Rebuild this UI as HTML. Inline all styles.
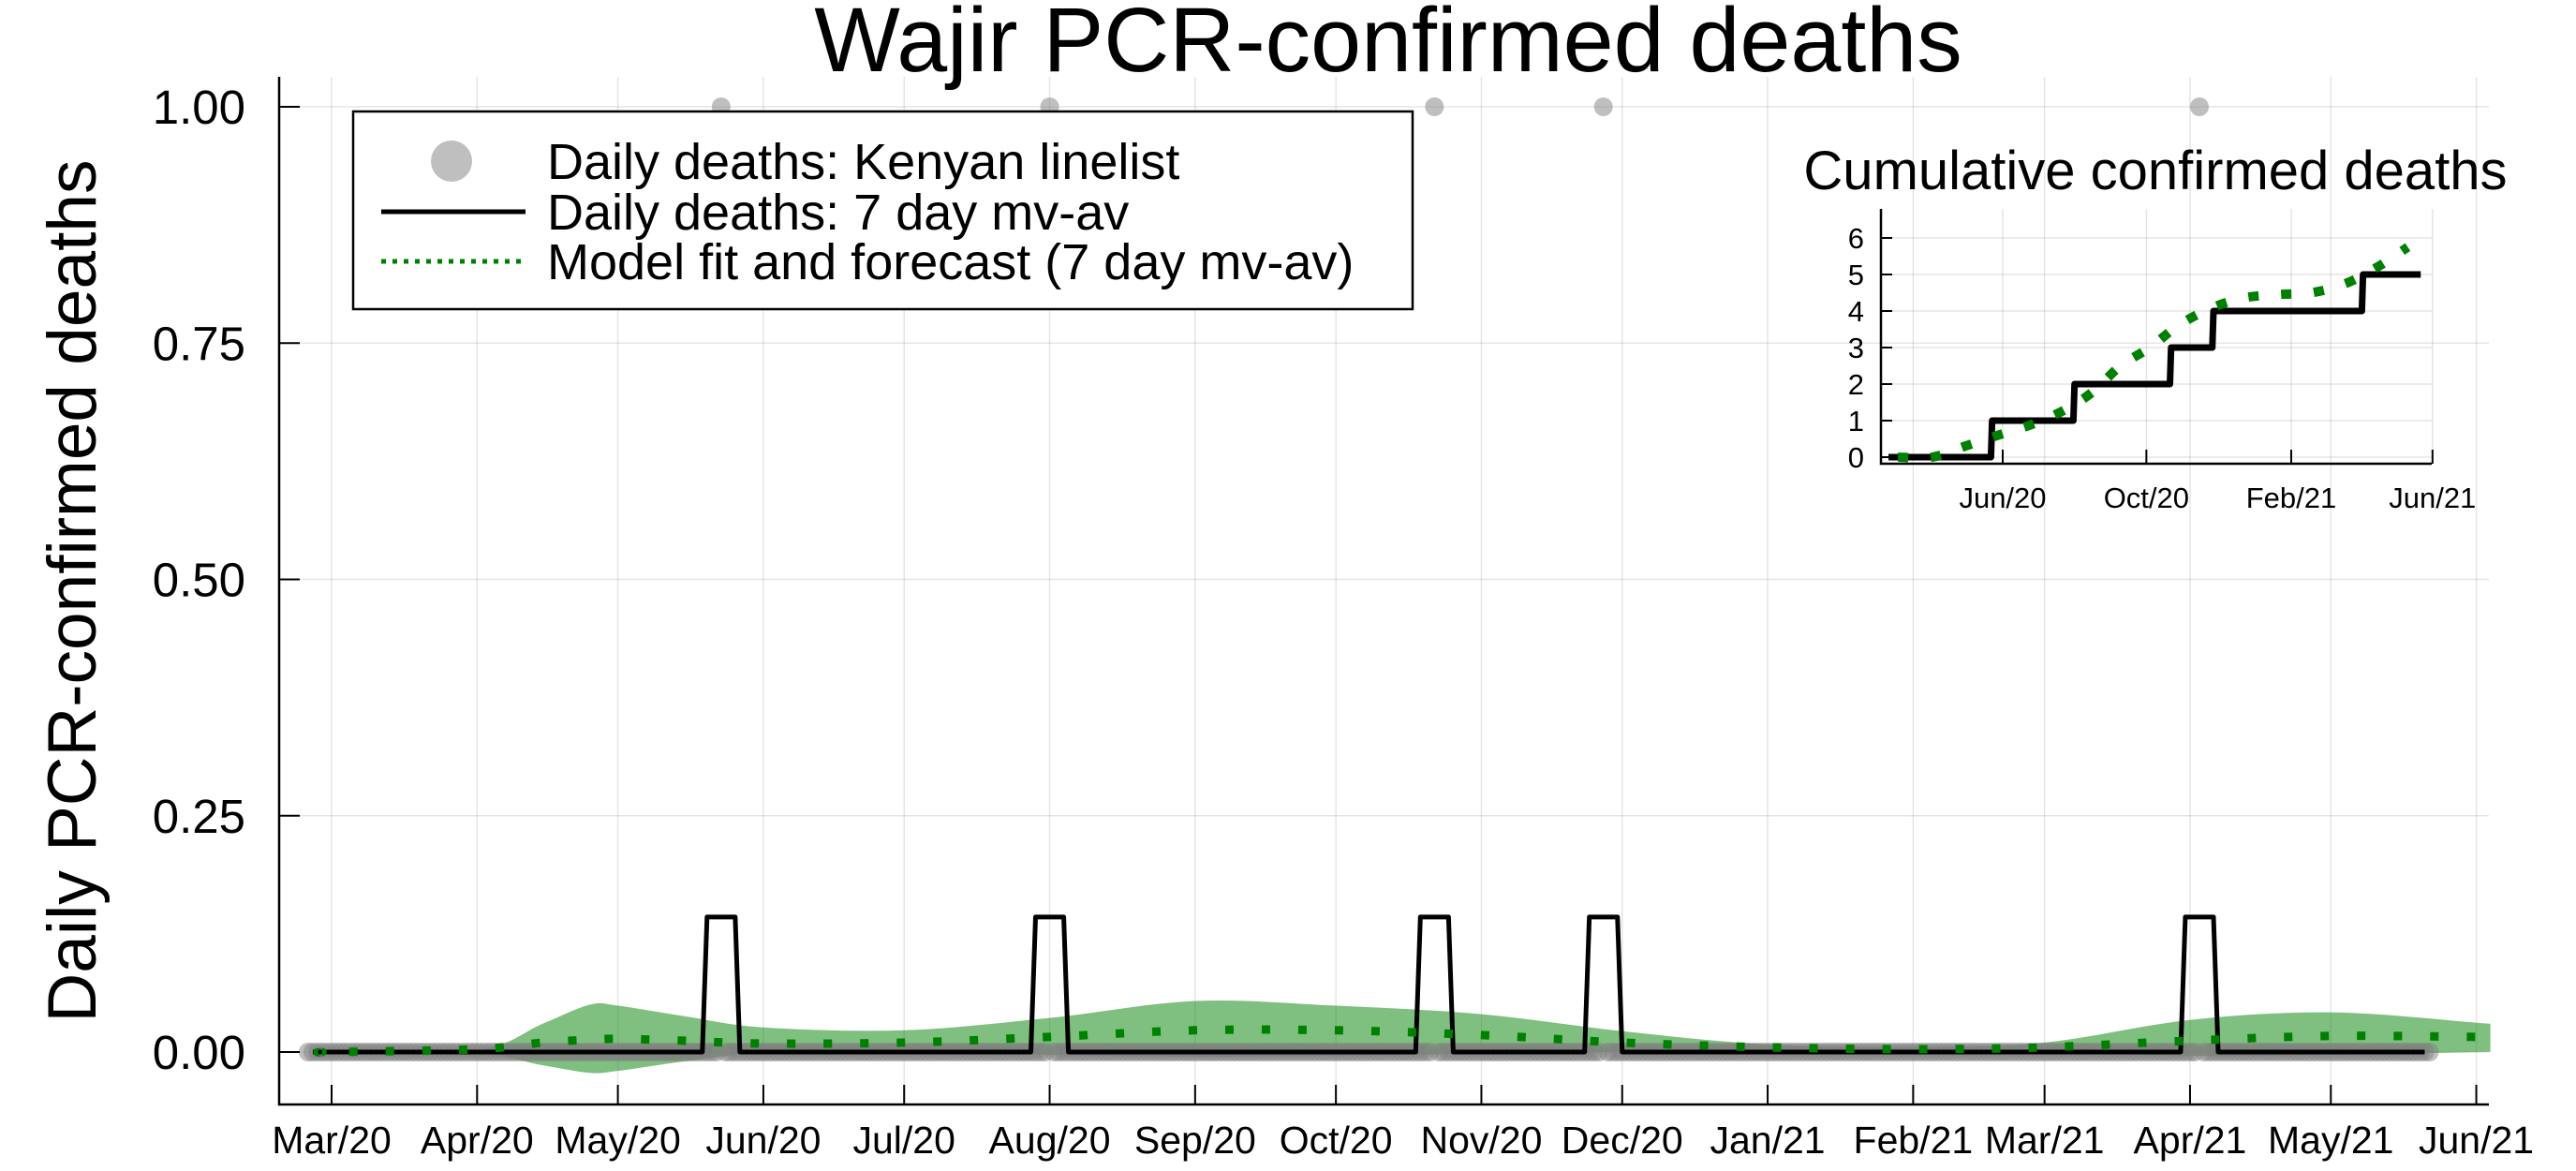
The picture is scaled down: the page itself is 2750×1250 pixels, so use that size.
<!DOCTYPE html>
<html><head><meta charset="utf-8"><style>
html,body{margin:0;padding:0;background:#fff;}
svg{display:block;font-family:"Liberation Sans","DejaVu Sans",sans-serif;}
</style></head><body>
<svg id="chart" width="2750" height="1250" viewBox="0 0 2750 1250" xmlns="http://www.w3.org/2000/svg">
<text x="1482" y="76" font-size="97" text-anchor="middle">Wajir PCR-confirmed deaths</text>
<text transform="translate(102,631) rotate(-90)" font-size="73" text-anchor="middle">Daily PCR-confirmed deaths</text>
<g id="main"></g>
<g id="inset"></g>
<g id="legend">
<rect x="377" y="119" width="1131" height="211" fill="#fff" stroke="#000" stroke-width="2.5"/>
<circle cx="482" cy="172" r="22" fill="#808080" fill-opacity="0.5"/>
<text x="584" y="191" font-size="54">Daily deaths: Kenyan linelist</text>
<line x1="407" y1="226" x2="561" y2="226" stroke="#000" stroke-width="5"/>
<text x="584" y="245" font-size="54">Daily deaths: 7 day mv-av</text>
<line x1="407" y1="279" x2="561" y2="279" stroke="#008000" stroke-width="5" stroke-dasharray="5 7"/>
<text x="584" y="298" font-size="54">Model fit and forecast (7 day mv-av)</text>
</g>
</svg>
<script>
const NS="http://www.w3.org/2000/svg";
// ---- data ----
const deathDays=[83,153,235,271,398];        // days since 2020-03-01 with one death
const firstDay=-5, lastDay=447;
const monthLabels=["Mar/20","Apr/20","May/20","Jun/20","Jul/20","Aug/20","Sep/20","Oct/20","Nov/20","Dec/20","Jan/21","Feb/21","Mar/21","Apr/21","May/21","Jun/21"];
const monthDays=[0,31,61,92,122,153,184,214,245,275,306,337,365,396,426,457];
const yTicks=[0,0.25,0.5,0.75,1.0];
const yTickLabels=["0.00","0.25","0.50","0.75","1.00"];
const modelDays=[-2,0,31,45,55,61,75,92,122,153,184,214,245,275,306,337,365,396,426,457,460];
const modelMean=[0,0,0.003,0.010,0.013,0.014,0.012,0.009,0.010,0.016,0.023,0.023,0.018,0.010,0.005,0.003,0.005,0.012,0.017,0.016,0.016];
const modelUpper=[0,0,0.002,0.03,0.05,0.049,0.038,0.026,0.023,0.036,0.054,0.049,0.040,0.022,0.008,0.005,0.010,0.034,0.042,0.031,0.030];
const modelLower=[0,0,-0.002,-0.014,-0.022,-0.02,-0.01,-0.001,0.001,-0.003,-0.005,-0.004,-0.002,0,0,0,0,-0.004,-0.003,0,0];
const cumModelDays=[3,32,60,88,117,145,169,192,217,241,267,295,325,354,383,410,436];
const cumModelVals=[0,0,0.3,0.6,0.9,1.3,1.8,2.5,3.0,3.6,4.05,4.35,4.45,4.5,4.75,5.2,5.75];
const insetXLabels=["Jun/20","Oct/20","Feb/21","Jun/21"];
const insetXDays=[92,214,337,457];
const insetYTicks=[0,1,2,3,4,5,6];

// ---- scales ----
const X=d=>354+d*5.01;
const Y=v=>1123-v*1009;
const IX=d=>2138+(d-92)*1.257;
const IY=v=>488-v*39;

function el(tag,attrs,parent,text){const e=document.createElementNS(NS,tag);for(const k in attrs)e.setAttribute(k,attrs[k]);if(text!==undefined)e.textContent=text;parent.appendChild(e);return e;}
function smooth(pts){let d="M"+pts[0][0]+","+pts[0][1];for(let i=0;i<pts.length-1;i++){const p0=pts[Math.max(0,i-1)],p1=pts[i],p2=pts[i+1],p3=pts[Math.min(pts.length-1,i+2)];const c1=[p1[0]+(p2[0]-p0[0])/6,p1[1]+(p2[1]-p0[1])/6],c2=[p2[0]-(p3[0]-p1[0])/6,p2[1]-(p3[1]-p1[1])/6];d+=" C"+c1[0]+","+c1[1]+" "+c2[0]+","+c2[1]+" "+p2[0]+","+p2[1];}return d;}

const main=document.getElementById("main");
monthDays.forEach((d,i)=>{
  const g=el("line",{x1:X(d),x2:X(d),y1:82,y2:1179,stroke:"#000","stroke-opacity":0.1,"stroke-width":1.5},main);
  
  
});
yTicks.forEach(v=>{
  const g=el("line",{x1:298,x2:2657,y1:Y(v),y2:Y(v),stroke:"#000","stroke-opacity":0.1,"stroke-width":1.5},main);
  
  
});
const up=modelDays.map((d,i)=>[X(d),Y(modelUpper[i])]);
const lo=modelDays.map((d,i)=>[X(d),Y(modelLower[i])]).reverse();
let bd=smooth(up)+" L"+smooth(lo).slice(1)+" Z";
const band=el("path",{d:bd,fill:"#008000","fill-opacity":0.5},main);


const daily={};deathDays.forEach(d=>daily[d]=1);
const ptsG=el("g",{},main);


for(let d=firstDay;d<=lastDay;d++){
  const c=el("circle",{cx:X(d),cy:Y(daily[d]||0),r:10,fill:"#808080","fill-opacity":0.5},ptsG);
  
  
}
let mv=[];
for(let d=firstDay+1;d<=lastDay-1;d++){let s=0;for(let k=-3;k<=3;k++)s+=(daily[d+k]||0);mv.push([X(d),Y(s/7)]);}
const mvp=el("path",{d:"M"+mv.map(p=>p.join(",")).join(" L"),fill:"none",stroke:"#000","stroke-width":5,"stroke-linejoin":"round"},main);


const mp=el("path",{d:smooth(modelDays.map((d,i)=>[X(d),Y(modelMean[i])])),fill:"none",stroke:"#008000","stroke-width":9,"stroke-dasharray":"9 30"},main);


const ax=el("path",{d:"M298,82 L298,1179 L2657,1179",fill:"none",stroke:"#000","stroke-width":2.5},main);


monthDays.forEach((d,i)=>{
  const t=el("line",{x1:X(d),x2:X(d),y1:1179,y2:1158,stroke:"#000","stroke-width":2},main);
  
  
  const l=el("text",{x:X(d),y:1231,"font-size":41,"text-anchor":"middle"},main,monthLabels[i]);
  
  
});
yTicks.forEach((v,i)=>{
  const t=el("line",{x1:298,x2:320,y1:Y(v),y2:Y(v),stroke:"#000","stroke-width":2},main);
  
  
  const l=el("text",{x:262,y:Y(v)+18,"font-size":51,"text-anchor":"end"},main,yTickLabels[i]);
  
  
});

const ins=document.getElementById("inset");
const it=el("text",{x:2301,y:202,"font-size":58,"text-anchor":"middle"},ins,"Cumulative confirmed deaths");


insetXDays.forEach(d=>{
  const g=el("line",{x1:IX(d),x2:IX(d),y1:223,y2:495,stroke:"#000","stroke-opacity":0.1,"stroke-width":1.5},ins);
  
  
});
insetYTicks.forEach(v=>{
  const g=el("line",{x1:2008,x2:2596,y1:IY(v),y2:IY(v),stroke:"#000","stroke-opacity":0.1,"stroke-width":1.5},ins);
  
  
});
let cum=0,cp=[];
for(let d=firstDay;d<=lastDay;d++){cum+=(daily[d]||0);cp.push([IX(d),IY(cum)]);}
const cl=el("path",{d:"M"+cp.map(p=>p.join(",")).join(" L"),fill:"none",stroke:"#000","stroke-width":7,"stroke-linejoin":"round"},ins);


const cm=el("path",{d:smooth(cumModelDays.map((d,i)=>[IX(d),IY(cumModelVals[i])])),fill:"none",stroke:"#008000","stroke-width":10,"stroke-dasharray":"11 24"},ins);


const iax=el("path",{d:"M2008,223 L2008,495 L2596,495",fill:"none",stroke:"#000","stroke-width":2.5},ins);


insetXDays.forEach((d,i)=>{
  const t=el("line",{x1:IX(d),x2:IX(d),y1:495,y2:480,stroke:"#000","stroke-width":2},ins);
  
  
  const l=el("text",{x:IX(d),y:542,"font-size":31,"text-anchor":"middle"},ins,insetXLabels[i]);
  
  
});
insetYTicks.forEach(v=>{
  const t=el("line",{x1:2008,x2:2020,y1:IY(v),y2:IY(v),stroke:"#000","stroke-width":2},ins);
  
  
  const l=el("text",{x:1990,y:IY(v)+11,"font-size":31,"text-anchor":"end"},ins,String(v));
  
  
});
</script>
</body></html>
